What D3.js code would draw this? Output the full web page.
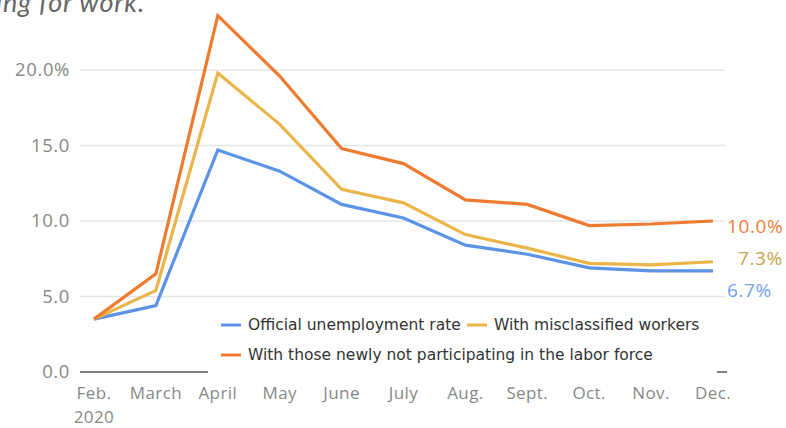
<!DOCTYPE html>
<html>
<head>
<meta charset="utf-8">
<script src="https://cdn.jsdelivr.net/npm/d3@7"></script>
<style>
  body { margin: 0; background: #fff; }
  svg { display: block; }
</style>
</head>
<body>
<div id="chart"></div>
<script>
var w = 786;
var h = 428;

var months = ["Feb.", "March", "April", "May", "June", "July", "Aug.", "Sept.", "Oct.", "Nov.", "Dec."];
var official = [3.5, 4.4, 14.7, 13.3, 11.1, 10.2, 8.4, 7.8, 6.9, 6.7, 6.7];
var misclassified = [3.5, 5.4, 19.8, 16.4, 12.1, 11.2, 9.1, 8.2, 7.2, 7.1, 7.3];
var notParticipating = [3.5, 6.5, 23.6, 19.6, 14.8, 13.8, 11.4, 11.1, 9.7, 9.8, 10.0];
var yTicks = [0, 5, 10, 15, 20];
var seriesNames = ["Official unemployment rate", "With misclassified workers", "With those newly not participating in the labor force"];

var colors = ["#5b93e6", "#ebb54a", "#ef7b30"];
var labelColors = ["#72a2ea", "#c9a24f", "#ef7f3c"];
var tickFont = "'Open Sans', sans-serif";

var svg = d3.select("#chart")
            .append("svg")
            .attr("width", w)
            .attr("height", h);

var x = d3.scalePoint()
          .domain(months)
          .range([94, 713]);

var y = d3.scaleLinear()
          .domain([0, 20])
          .range([372, 70]);

// clipped subtitle at the top
svg.append("text")
    .attr("x", -4)
    .attr("y", 12)
    .attr("font-family", "Lato, sans-serif")
    .attr("font-style", "italic")
    .attr("font-size", 27)
    .attr("letter-spacing", 0.8)
    .attr("fill", "#666")
    .text("ing for work.");

// gridlines
svg.selectAll("line.grid")
    .data(yTicks.filter(function(d) { return d > 0; }))
    .enter()
    .append("line")
    .attr("class", "grid")
    .attr("x1", 80)
    .attr("x2", 725)
    .attr("y1", function(d) { return y(d); })
    .attr("y2", function(d) { return y(d); })
    .attr("stroke", "#e5e5e5")
    .attr("stroke-width", 1.5);

svg.append("line")
    .attr("x1", 80)
    .attr("x2", 727)
    .attr("y1", y(0))
    .attr("y2", y(0))
    .attr("stroke", "#555")
    .attr("stroke-width", 1.5);

// y tick labels
svg.selectAll("text.ytick")
    .data(yTicks)
    .enter()
    .append("text")
    .attr("class", "ytick")
    .attr("x", 70)
    .attr("y", function(d) { return y(d); })
    .attr("dy", "0.35em")
    .attr("text-anchor", "end")
    .attr("font-family", tickFont)
    .attr("font-size", 18.5)
    .attr("letter-spacing", 0.6)
    .attr("fill", "#888")
    .text(function(d) { return d === 20 ? d.toFixed(1) + "%" : d.toFixed(1); });

// x tick labels
svg.selectAll("text.xtick")
    .data(months)
    .enter()
    .append("text")
    .attr("class", "xtick")
    .attr("x", function(d) { return x(d); })
    .attr("y", 399)
    .attr("text-anchor", "middle")
    .attr("font-family", tickFont)
    .attr("font-size", 17)
    .attr("letter-spacing", 0.4)
    .attr("fill", "#888")
    .text(function(d) { return d; });

svg.append("text")
    .attr("x", x("Feb."))
    .attr("y", 423)
    .attr("text-anchor", "middle")
    .attr("font-family", tickFont)
    .attr("font-size", 17)
    .attr("letter-spacing", 0.4)
    .attr("fill", "#888")
    .text("2020");

// lines
var line = d3.line()
    .x(function(d, i) { return x(months[i]); })
    .y(function(d) { return y(d); });

var allSeries = [official, misclassified, notParticipating];

svg.selectAll("path.series")
    .data(allSeries)
    .enter()
    .append("path")
    .attr("class", "series")
    .attr("fill", "none")
    .attr("stroke", function(d, i) { return colors[i]; })
    .attr("stroke-width", 3.2)
    .attr("stroke-linejoin", "miter")
    .attr("d", line);

// end labels
var endY = [290, 258, 226];
svg.selectAll("text.endlabel")
    .data(allSeries)
    .enter()
    .append("text")
    .attr("class", "endlabel")
    .attr("x", function(d, i) { return i === 1 ? 738 : 727; })
    .attr("y", function(d, i) { return endY[i]; })
    .attr("dy", "0.35em")
    .attr("font-family", tickFont)
    .attr("font-size", 19)
    .attr("letter-spacing", 0.6)
    .attr("fill", function(d, i) { return labelColors[i]; })
    .text(function(d) { return d[d.length - 1].toFixed(1) + "%"; });

// legend with white backing
svg.append("rect")
    .attr("x", 208)
    .attr("y", 308)
    .attr("width", 509)
    .attr("height", 68)
    .attr("fill", "#fff");

var legendPos = [[221, 325], [467, 325], [221, 355]];
var legend = svg.selectAll("g.legend")
    .data(seriesNames)
    .enter()
    .append("g")
    .attr("class", "legend")
    .attr("transform", function(d, i) {
        return "translate(" + legendPos[i][0] + "," + legendPos[i][1] + ")";
    });

legend.append("line")
    .attr("x1", 0)
    .attr("x2", 20)
    .attr("stroke", function(d, i) { return colors[i]; })
    .attr("stroke-width", 3);

legend.append("text")
    .attr("x", 27)
    .attr("dy", "0.35em")
    .attr("font-family", "'DejaVu Sans', sans-serif")
    .attr("font-size", 15.5)
    .attr("fill", "#333")
    .text(function(d) { return d; });
</script>
</body>
</html>
